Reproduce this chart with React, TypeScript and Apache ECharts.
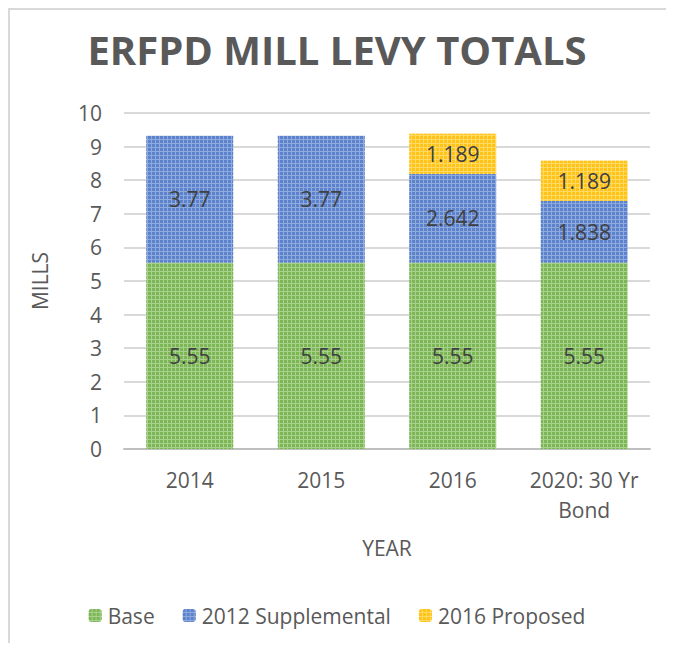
import React, { useEffect, useRef } from "react";
import * as echarts from "echarts";

const categories = ["2014", "2015", "2016", "2020: 30 Yr\nBond"];
const baseValues = [5.55, 5.55, 5.55, 5.55];
const supplementalValues = [3.77, 3.77, 2.642, 1.838];
const proposedValues = [null, null, 1.189, 1.189];
const yTicks = { min: 0, max: 10, interval: 1 };

const FONT = "'Open Sans', Lato, sans-serif";

function decal(color: string) {
  return {
    symbol: "rect",
    symbolSize: 1,
    dashArrayX: [3, 1],
    dashArrayY: [3, 1],
    color,
  };
}

export default function App() {
  const ref = useRef<HTMLDivElement>(null);
  useEffect(() => {
    if (!ref.current) return;
    const chart = echarts.init(ref.current, undefined, { renderer: "svg" });
    const labelStyle = {
      show: true,
      position: "inside",
      fontSize: 21,
      color: "#404040",
      fontFamily: FONT,
      formatter: (p: any) => (p.value == null ? "" : String(p.value)),
    };
    chart.setOption({
      animation: false,
      textStyle: { fontFamily: FONT },
      title: {
        text: "ERFPD MILL LEVY TOTALS",
        left: "center",
        top: 24,
        textStyle: { fontSize: 40, fontWeight: "bold", color: "#595959", fontFamily: FONT },
      },
      graphic: {
        elements: [
          {
            type: "rect",
            shape: { x: 8, y: 8, width: 2, height: 660 },
            style: { fill: "#d9d9d9" },
            silent: true,
            z: 100,
          },
          {
            type: "rect",
            shape: { x: 8, y: 8, width: 680, height: 2 },
            style: { fill: "#d9d9d9" },
            silent: true,
            z: 100,
          },
        ],
      },
      legend: {
        bottom: 20,
        left: "center",
        itemWidth: 13,
        itemHeight: 13,
        itemGap: 28,
        textStyle: { fontSize: 21, color: "#595959", fontFamily: FONT, padding: [0, 0, 0, 1] },
        data: ["Base", "2012 Supplemental", "2016 Proposed"],
      },
      grid: { left: 124, right: 24, top: 113, bottom: 202, containLabel: false },
      xAxis: {
        type: "category",
        data: categories,
        name: "YEAR",
        nameLocation: "middle",
        nameGap: 88,
        nameTextStyle: { fontSize: 21, color: "#595959", fontFamily: FONT },
        axisLine: { lineStyle: { color: "#bfbfbf", width: 2 } },
        axisTick: { show: false },
        axisLabel: {
          interval: 0,
          fontSize: 21,
          color: "#595959",
          margin: 16,
          lineHeight: 30,
          fontFamily: FONT,
        },
      },
      yAxis: {
        type: "value",
        min: yTicks.min,
        max: yTicks.max,
        interval: yTicks.interval,
        name: "MILLS",
        nameLocation: "middle",
        nameGap: 74,
        nameRotate: 90,
        nameTextStyle: { fontSize: 21, color: "#595959", fontFamily: FONT },
        axisLine: { show: false },
        axisTick: { show: false },
        axisLabel: { fontSize: 21, color: "#595959", margin: 22, fontFamily: FONT },
        splitLine: { lineStyle: { color: "#d9d9d9", width: 2 } },
      },
      series: [
        {
          name: "Base",
          type: "bar",
          stack: "total",
          barWidth: "66%",
          data: baseValues,
          itemStyle: { color: "#a9d18e", decal: decal("#7cb655") },
          label: labelStyle,
        },
        {
          name: "2012 Supplemental",
          type: "bar",
          stack: "total",
          data: supplementalValues,
          itemStyle: { color: "#8faadc", decal: decal("#5b82cb") },
          label: labelStyle,
        },
        {
          name: "2016 Proposed",
          type: "bar",
          stack: "total",
          data: proposedValues,
          itemStyle: { color: "#ffd966", decal: decal("#ffc416") },
          label: labelStyle,
        },
      ],
    });
    return () => chart.dispose();
  }, []);
  return (
    <div style={{ position: "relative", width: 674, height: 651, margin: -8, overflow: "hidden", background: "#ffffff" }}>
      <div ref={ref} style={{ position: "absolute", left: 0, top: 0, width: 674, height: 651 }} />
    </div>
  );
}
